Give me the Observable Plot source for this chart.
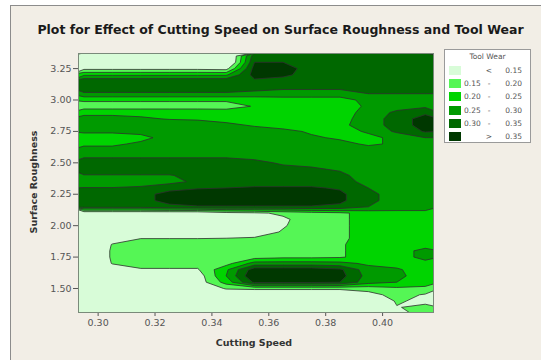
<!DOCTYPE html>
<html><head><meta charset="utf-8">
<script src="https://cdn.jsdelivr.net/npm/d3@7"></script>
<script src="https://cdn.jsdelivr.net/npm/@observablehq/plot@0.6"></script>
<style>
html,body{margin:0;padding:0;background:#fff;width:541px;height:360px;overflow:hidden;}
#panel{position:absolute;left:10px;top:5px;width:531px;height:355px;background:#f2eee6;border-left:1px solid #8c8c8c;border-top:1px solid #8c8c8c;box-sizing:border-box;}
#chart{position:absolute;left:0;top:0;}
#title{position:absolute;left:0;top:22px;width:561px;text-align:center;font:bold 12.5px "DejaVu Sans";color:#1a1a1a;white-space:nowrap;}
.axlab{position:absolute;font:bold 9.5px "DejaVu Sans";color:#333;white-space:nowrap;}
#legend{position:absolute;left:444px;top:49px;width:87px;height:94px;background:#fff;border:1px solid #9a9a9a;box-sizing:border-box;font:7.5px "DejaVu Sans";color:#555;}
#legend .t{position:absolute;white-space:nowrap;}
#legend .sw{position:absolute;width:12px;height:9px;}
</style></head>
<body>
<div id="panel"></div>
<div id="chart"></div>
<div id="title">Plot for Effect of Cutting Speed on Surface Roughness and Tool Wear</div>
<div class="axlab" id="xlab" style="left:254px;top:342px;transform:translate(-50%,-50%);">Cutting Speed</div>
<div class="axlab" id="ylab" style="left:33px;top:182px;transform:translate(-50%,-50%) rotate(-90deg);">Surface Roughness</div>
<div id="legend"></div>
<script>
// Grid of cutting speed (column centres) and surface roughness (row centres, top to bottom)
const speeds = [0.295,0.305,0.315,0.325,0.335,0.345,0.355,0.365,0.375,0.385,0.395,0.405,0.415];
const roughness = [3.35,3.30,3.25,3.20,3.15,3.10,3.05,3.00,2.95,2.90,2.85,2.80,2.75,2.70,2.65,2.60,2.55,2.50,2.45,2.40,2.35,2.30,2.25,2.20,2.15,2.10,2.05,2.00,1.95,1.90,1.85,1.80,1.75,1.70,1.65,1.60,1.55,1.50,1.45,1.40,1.35,1.30];
// Tool wear, one row per roughness value
const toolWear = [
[0.10,0.10,0.10,0.10,0.10,0.05,0.33,0.33,0.32,0.32,0.32,0.32,0.32],
[0.10,0.10,0.10,0.10,0.10,0.05,0.35,0.35,0.33,0.32,0.32,0.32,0.32],
[0.136,0.136,0.136,0.136,0.136,0.13,0.37,0.37,0.33,0.33,0.33,0.33,0.33],
[0.242,0.242,0.242,0.242,0.242,0.242,0.37,0.36,0.33,0.33,0.33,0.33,0.33],
[0.34,0.34,0.34,0.34,0.34,0.34,0.34,0.33,0.33,0.33,0.33,0.33,0.33],
[0.34,0.34,0.34,0.34,0.34,0.34,0.32,0.31,0.31,0.31,0.315,0.315,0.315],
[0.29,0.29,0.29,0.29,0.29,0.29,0.285,0.28,0.28,0.28,0.30,0.30,0.30],
[0.21,0.21,0.21,0.21,0.21,0.21,0.215,0.225,0.225,0.225,0.27,0.275,0.28],
[0.17,0.17,0.17,0.17,0.17,0.17,0.205,0.22,0.22,0.22,0.26,0.28,0.29],
[0.24,0.24,0.24,0.24,0.24,0.235,0.225,0.225,0.225,0.225,0.27,0.31,0.34],
[0.262,0.262,0.255,0.248,0.245,0.235,0.23,0.225,0.225,0.235,0.27,0.325,0.37],
[0.275,0.275,0.272,0.27,0.27,0.26,0.245,0.235,0.23,0.24,0.27,0.325,0.37],
[0.26,0.26,0.265,0.275,0.28,0.275,0.27,0.26,0.245,0.235,0.255,0.31,0.355],
[0.22,0.22,0.235,0.27,0.28,0.28,0.275,0.27,0.255,0.245,0.24,0.26,0.30],
[0.24,0.24,0.26,0.275,0.28,0.285,0.28,0.275,0.27,0.26,0.245,0.255,0.27],
[0.27,0.27,0.27,0.28,0.285,0.285,0.285,0.28,0.275,0.27,0.265,0.27,0.27],
[0.295,0.295,0.295,0.295,0.295,0.295,0.29,0.285,0.28,0.275,0.27,0.27,0.27],
[0.32,0.32,0.32,0.32,0.32,0.32,0.31,0.295,0.29,0.28,0.275,0.27,0.27],
[0.32,0.32,0.32,0.32,0.32,0.32,0.315,0.31,0.305,0.295,0.275,0.27,0.27],
[0.298,0.298,0.298,0.298,0.31,0.315,0.32,0.32,0.315,0.31,0.28,0.27,0.275],
[0.27,0.27,0.27,0.285,0.31,0.32,0.33,0.33,0.33,0.32,0.285,0.275,0.29],
[0.302,0.302,0.31,0.33,0.345,0.35,0.355,0.355,0.355,0.345,0.30,0.275,0.28],
[0.32,0.32,0.33,0.37,0.38,0.38,0.38,0.38,0.38,0.36,0.315,0.275,0.275],
[0.325,0.325,0.33,0.37,0.38,0.38,0.38,0.38,0.38,0.36,0.315,0.275,0.275],
[0.32,0.32,0.32,0.335,0.345,0.345,0.345,0.345,0.345,0.34,0.30,0.28,0.28],
[0.10,0.10,0.10,0.10,0.10,0.13,0.14,0.16,0.18,0.19,0.22,0.23,0.23],
[0.10,0.10,0.10,0.10,0.10,0.10,0.10,0.14,0.18,0.19,0.22,0.23,0.23],
[0.10,0.10,0.10,0.10,0.10,0.10,0.10,0.145,0.18,0.19,0.22,0.23,0.23],
[0.10,0.10,0.10,0.10,0.10,0.10,0.12,0.155,0.18,0.19,0.22,0.23,0.23],
[0.10,0.13,0.148,0.148,0.148,0.15,0.155,0.17,0.18,0.19,0.22,0.225,0.23],
[0.10,0.152,0.18,0.18,0.18,0.18,0.18,0.185,0.19,0.195,0.22,0.23,0.235],
[0.10,0.155,0.18,0.18,0.18,0.18,0.18,0.185,0.19,0.195,0.22,0.235,0.26],
[0.10,0.155,0.18,0.18,0.18,0.17,0.18,0.19,0.19,0.195,0.22,0.235,0.26],
[0.10,0.152,0.17,0.17,0.17,0.18,0.27,0.27,0.27,0.265,0.24,0.235,0.24],
[0.10,0.13,0.145,0.145,0.145,0.24,0.38,0.38,0.38,0.36,0.27,0.255,0.23],
[0.10,0.10,0.10,0.10,0.12,0.25,0.40,0.40,0.40,0.37,0.28,0.26,0.23],
[0.10,0.10,0.10,0.10,0.12,0.22,0.36,0.36,0.36,0.35,0.27,0.25,0.22],
[0.10,0.10,0.10,0.10,0.10,0.155,0.16,0.16,0.16,0.16,0.17,0.19,0.19],
[0.10,0.10,0.10,0.10,0.10,0.10,0.10,0.10,0.10,0.10,0.13,0.17,0.145],
[0.10,0.10,0.10,0.10,0.10,0.10,0.10,0.10,0.10,0.10,0.10,0.155,0.14],
[0.10,0.10,0.10,0.10,0.10,0.10,0.10,0.10,0.10,0.10,0.08,0.148,0.16],
[0.10,0.10,0.10,0.10,0.10,0.10,0.10,0.10,0.10,0.10,0.08,0.14,0.16]
];
const levels = [0.15,0.20,0.25,0.30,0.35];
const levelColors = ["#d8fcd8","#55f655","#00d400","#009a00","#006800","#003800"];
const legendLabels = [["","<","0.15"],["0.15","-","0.20"],["0.20","-","0.25"],["0.25","-","0.30"],["0.30","-","0.35"],["",">","0.35"]];
const speedTicks = [0.30,0.32,0.34,0.36,0.38,0.40];
const roughTicks = [1.50,1.75,2.00,2.25,2.50,2.75,3.00,3.25];

const nx = speeds.length, ny = roughness.length;
const dx = speeds[1]-speeds[0], dy = roughness[0]-roughness[1];

const chart = Plot.plot({
  width: 541, height: 360,
  marginLeft: 78, marginRight: 108, marginTop: 53, marginBottom: 48,
  style: {background: "transparent", fontFamily: "DejaVu Sans", fontSize: "9.5px", color: "#555"},
  x: {domain: [0.2931, 0.4179], ticks: speedTicks, tickFormat: d3.format(".2f"), tickSize: 4, tickPadding: 3, label: null},
  y: {domain: [1.309, 3.37], ticks: roughTicks, tickFormat: d3.format(".2f"), tickSize: 5, tickPadding: 2, label: null},
  color: {type: "threshold", domain: levels, range: levelColors},
  marks: [
    Plot.contour(toolWear.flat(), {
      width: nx, height: ny,
      x1: speeds[0]-dx/2, x2: speeds[nx-1]+dx/2,
      y1: roughness[0]+dy/2, y2: roughness[ny-1]-dy/2,
      fill: Plot.identity,
      thresholds: [0, ...levels],
      stroke: "#2e2e2e", strokeWidth: 0.8, clip: true
    }),
    Plot.frame({stroke: "#7a8a7a"})
  ]
});
document.getElementById("chart").appendChild(chart);

const lg = document.getElementById("legend");
const t = document.createElement("div");
t.className = "t"; t.textContent = "Tool Wear";
t.style.left = "0px"; t.style.width = "85px"; t.style.textAlign = "center"; t.style.top = "2px";
lg.appendChild(t);
legendLabels.forEach((lab, i) => {
  const top = 16 + i*13.2;
  const sw = document.createElement("div");
  sw.className = "sw"; sw.style.left = "4px"; sw.style.top = top + "px"; sw.style.background = levelColors[i];
  lg.appendChild(sw);
  const a = document.createElement("div"); a.className = "t"; a.textContent = lab[0];
  a.style.left = "19px"; a.style.top = (top) + "px"; lg.appendChild(a);
  const b = document.createElement("div"); b.className = "t"; b.textContent = lab[1];
  b.style.left = "39px"; b.style.width = "10px"; b.style.textAlign = "center"; b.style.top = top + "px"; lg.appendChild(b);
  const c = document.createElement("div"); c.className = "t"; c.textContent = lab[2];
  c.style.right = "8px"; c.style.top = top + "px"; lg.appendChild(c);
});
</script>
</body></html>
